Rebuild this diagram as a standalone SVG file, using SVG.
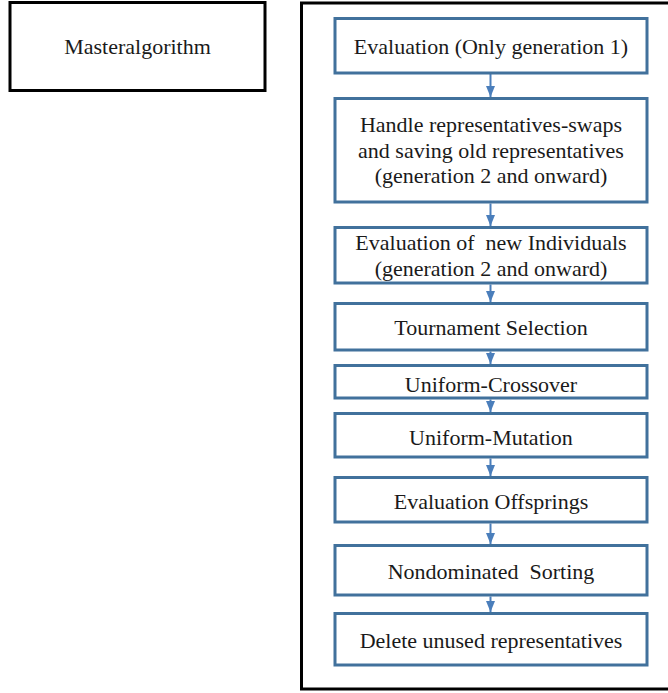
<svg xmlns="http://www.w3.org/2000/svg" width="668" height="693" viewBox="0 0 668 693">
<style>
  .frame { fill: #ffffff; stroke: #000000; stroke-width: 3; }
  .step { fill: #ffffff; stroke: #41719C; stroke-width: 3; }
  .lbl { font-family: "Liberation Serif", "DejaVu Serif", serif; font-size: 22px; fill: #1a1a1a; text-anchor: middle; white-space: pre; }
  .conn { stroke: #4A7EBB; stroke-width: 2; fill: none; }
</style>
<defs>
  <marker id="ah" viewBox="0 0 11 9" refX="11" refY="4.5" markerWidth="11" markerHeight="9" markerUnits="userSpaceOnUse" orient="auto" preserveAspectRatio="none">
    <path d="M0,0 L11,4.5 L0,9 Z" fill="#4A7EBB"/>
  </marker>
</defs>
<rect width="668" height="693" fill="#ffffff"/>
<g id="master">
  <rect class="frame" x="10" y="2.5" width="255" height="88"/>
  <text class="lbl" x="137.5" y="54">Masteralgorithm</text>
</g>
<g id="container">
  <rect class="frame" x="301.5" y="3" width="380" height="686"/>
</g>
<g id="connectors">
  <line class="conn" x1="490.5" y1="74" x2="490.5" y2="97" marker-end="url(#ah)"/>
  <line class="conn" x1="490.5" y1="203.5" x2="490.5" y2="226" marker-end="url(#ah)"/>
  <line class="conn" x1="490.5" y1="284.5" x2="490.5" y2="302" marker-end="url(#ah)"/>
  <line class="conn" x1="490.5" y1="351.5" x2="490.5" y2="364" marker-end="url(#ah)"/>
  <line class="conn" x1="490.5" y1="399.5" x2="490.5" y2="412" marker-end="url(#ah)"/>
  <line class="conn" x1="490.5" y1="458.5" x2="490.5" y2="476" marker-end="url(#ah)"/>
  <line class="conn" x1="490.5" y1="523.5" x2="490.5" y2="544" marker-end="url(#ah)"/>
  <line class="conn" x1="490.5" y1="596.5" x2="490.5" y2="612" marker-end="url(#ah)"/>
</g>
<g id="n1">
  <rect class="step" x="335" y="18.5" width="312" height="54.5"/>
  <text class="lbl" x="491" y="54.3">Evaluation (Only generation 1)</text>
</g>
<g id="n2">
  <rect class="step" x="335" y="98.5" width="312" height="103.5"/>
  <text class="lbl" x="491" y="132.3">Handle representatives-swaps</text>
  <text class="lbl" x="491" y="157.8">and saving old representatives</text>
  <text class="lbl" x="491" y="183">(generation 2 and onward)</text>
</g>
<g id="n3">
  <rect class="step" x="335" y="227.5" width="312" height="55.5"/>
  <text class="lbl" x="491" y="249.5">Evaluation of  new Individuals</text>
  <text class="lbl" x="491" y="276">(generation 2 and onward)</text>
</g>
<g id="n4">
  <rect class="step" x="335" y="303.5" width="312" height="46.5"/>
  <text class="lbl" x="491" y="335">Tournament Selection</text>
</g>
<g id="n5">
  <rect class="step" x="335" y="365.5" width="312" height="32.5"/>
  <text class="lbl" x="491" y="391.5">Uniform-Crossover</text>
</g>
<g id="n6">
  <rect class="step" x="335" y="413.5" width="312" height="43.5"/>
  <text class="lbl" x="491" y="445">Uniform-Mutation</text>
</g>
<g id="n7">
  <rect class="step" x="335" y="477.5" width="312" height="44.5"/>
  <text class="lbl" x="491" y="509.3">Evaluation Offsprings</text>
</g>
<g id="n8">
  <rect class="step" x="335" y="545.5" width="312" height="49.5"/>
  <text class="lbl" x="491" y="579.3">Nondominated  Sorting</text>
</g>
<g id="n9">
  <rect class="step" x="335" y="613.5" width="312" height="51.5"/>
  <text class="lbl" x="491" y="648.3">Delete unused representatives</text>
</g>
</svg>
